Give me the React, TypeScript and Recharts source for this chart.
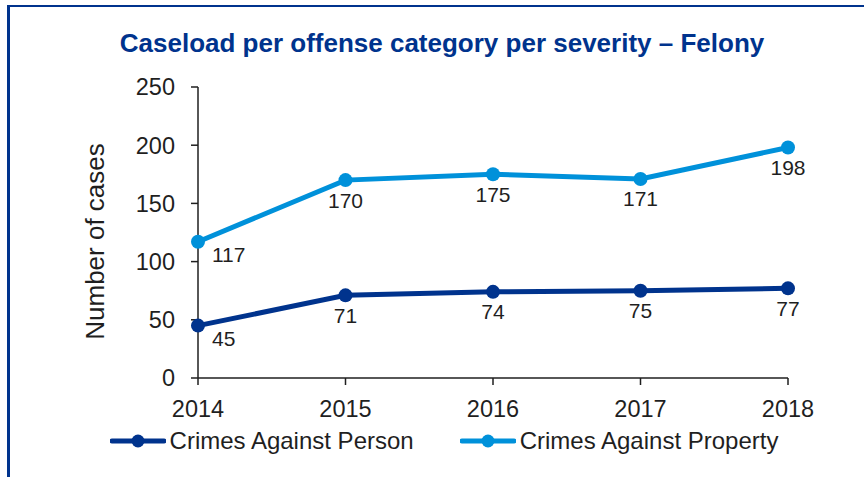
import { CartesianGrid, Legend, LabelList, Line, LineChart, XAxis, YAxis } from "recharts";

const YEARS = ["2014", "2015", "2016", "2017", "2018"];
const PERSON = [45, 71, 74, 75, 77];
const PROPERTY = [117, 170, 175, 171, 198];
const Y_TICKS = [0, 50, 100, 150, 200, 250];

const DARK = "#00338D";
const LIGHT = "#0091DA";
const INK = "#1f1f1f";
const FONT = '"Liberation Sans", Arial, Helvetica, sans-serif';

const data = YEARS.map((year, i) => ({
  year,
  person: PERSON[i],
  property: PROPERTY[i],
}));

const SERIES = [
  { key: "person", name: "Crimes Against Person", color: DARK },
  { key: "property", name: "Crimes Against Property", color: LIGHT },
];

function renderLabel(props: any) {
  const { x, y, value, index } = props;
  const first = index === 0;
  return (
    <text
      x={first ? x + 14 : x}
      y={first ? y + 13 : y + 20}
      textAnchor={first ? "start" : "middle"}
      dominantBaseline="central"
      fontSize={21}
      fontFamily={FONT}
      fill={INK}
    >
      {value}
    </text>
  );
}

function YTitle(props: any) {
  const { viewBox } = props;
  const cx = 95;
  const cy = viewBox.y + viewBox.height / 2 + 9;
  return (
    <text
      x={cx}
      y={cy}
      transform={`rotate(-90 ${cx} ${cy})`}
      textAnchor="middle"
      dominantBaseline="central"
      fontSize={26}
      fontFamily={FONT}
      fill={INK}
    >
      Number of cases
    </text>
  );
}

function LegendContent() {
  return (
    <div style={{ display: "flex", justifyContent: "center", alignItems: "center", height: 40, fontFamily: FONT, fontSize: 24, color: INK }}>
      {SERIES.map((s, i) => (
        <div key={s.key} style={{ display: "flex", alignItems: "center", marginLeft: i ? 46 : 0 }}>
          <svg width={56} height={16} style={{ marginRight: 4 }}>
            <line x1={2} y1={8} x2={54} y2={8} stroke={s.color} strokeWidth={5} strokeLinecap="round" />
            <circle cx={28} cy={8} r={6.5} fill={s.color} />
          </svg>
          <span>{s.name}</span>
        </div>
      ))}
    </div>
  );
}

export default function App() {
  return (
    <div style={{ position: "absolute", left: 0, top: 0, width: 864, height: 477, background: "#fff", overflow: "hidden" }}>
      <div
        style={{
          position: "absolute",
          left: 7,
          top: 5,
          width: 860,
          height: 475,
          borderTop: `2px solid ${DARK}`,
          borderLeft: `3px solid ${DARK}`,
        }}
      />
      <div
        style={{
          position: "absolute",
          left: 0,
          top: 28,
          width: 884,
          textAlign: "center",
          fontFamily: FONT,
          fontWeight: "bold",
          fontSize: 26,
          color: DARK,
        }}
      >
        Caseload per offense category per severity – Felony
      </div>
      <LineChart
        width={864}
        height={477}
        data={data}
        margin={{ top: 87, right: 76, bottom: 16, left: 0 }}
        style={{ fontFamily: FONT }}
      >
        <CartesianGrid stroke="none" />
        <XAxis
          dataKey="year"
          height={43}
          padding={{ left: 0, right: 0 }}
          tick={{ fill: INK, fontSize: 23.5 }}
          tickSize={7}
          tickMargin={15}
          axisLine={{ stroke: INK, strokeWidth: 1.5 }}
          tickLine={{ stroke: INK, strokeWidth: 1.5 }}
        />
        <YAxis
          width={198}
          domain={[0, 250]}
          ticks={Y_TICKS}
          interval={0}
          tick={{ fill: INK, fontSize: 23.5 }}
          tickSize={7}
          tickMargin={16}
          axisLine={{ stroke: INK, strokeWidth: 1.5 }}
          tickLine={{ stroke: INK, strokeWidth: 1.5 }}
          label={<YTitle />}
        />
        <Legend verticalAlign="bottom" wrapperStyle={{ left: 0, width: 888 }} content={<LegendContent />} />
        {SERIES.map((s) => (
          <Line
            key={s.key}
            type="linear"
            dataKey={s.key}
            name={s.name}
            stroke={s.color}
            strokeWidth={5}
            dot={{ r: 7, fill: s.color, stroke: "none" }}
            activeDot={false}
            isAnimationActive={false}
          >
            <LabelList dataKey={s.key} content={renderLabel} />
          </Line>
        ))}
      </LineChart>
    </div>
  );
}
